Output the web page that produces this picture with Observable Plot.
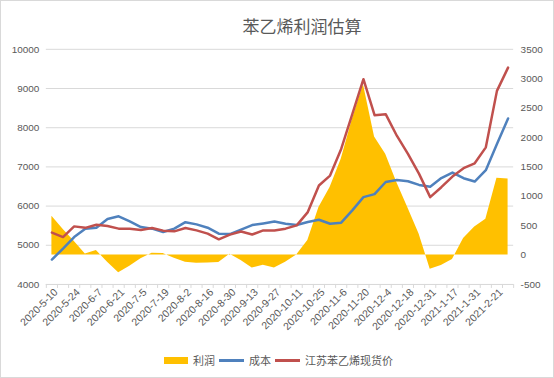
<!DOCTYPE html>
<html>
<head>
<meta charset="utf-8">
<script src="https://cdn.jsdelivr.net/npm/d3@7"></script>
<script src="https://cdn.jsdelivr.net/npm/@observablehq/plot@0.6"></script>
<style>
  html, body { margin: 0; padding: 0; background: #fff; }
  #chart { position: relative; width: 554px; height: 378px; box-sizing: border-box; border: 1px solid #d9d9d9; background: #fff; overflow: hidden; font-family: "Liberation Sans", "Noto Sans CJK SC", sans-serif; color: #595959; }
  #title { position: absolute; top: 13px; left: 0; width: 554px; text-align: center; padding-left: 48px; box-sizing: border-box; font-family: "Noto Sans CJK SC", sans-serif; font-size: 17px; color: #595959; line-height: 24px; }
  #plot { position: absolute; top: 0; left: 0; }
  #legend { position: absolute; top: 350px; left: 163px; display: flex; align-items: center; font-family: "Noto Sans CJK SC", sans-serif; font-size: 11px; color: #595959; line-height: 18px; }
  .item { display: flex; align-items: center; margin-right: 4px; }
  .sw { display: inline-block; margin-right: 5px; }
</style>
</head>
<body>
<div id="chart">
  <div id="plot"></div>
  <div id="title">苯乙烯利润估算</div>
  <div id="legend"></div>
</div>
<script>
const dates = ["2020-5-10","2020-5-17","2020-5-24","2020-5-31","2020-6-7","2020-6-14","2020-6-21","2020-6-28","2020-7-5","2020-7-12","2020-7-19","2020-7-26","2020-8-2","2020-8-9","2020-8-16","2020-8-23","2020-8-30","2020-9-6","2020-9-13","2020-9-20","2020-9-27","2020-10-4","2020-10-11","2020-10-18","2020-10-25","2020-11-1","2020-11-6","2020-11-13","2020-11-20","2020-11-27","2020-12-4","2020-12-11","2020-12-18","2020-12-25","2020-12-31","2021-1-10","2021-1-17","2021-1-24","2021-1-31","2021-2-7","2021-2-21","2021-2-28"];
const cost = [4636,4915,5210,5424,5449,5670,5740,5610,5466,5424,5340,5424,5590,5533,5449,5297,5285,5400,5515,5558,5605,5550,5516,5593,5652,5550,5576,5890,6228,6305,6615,6665,6634,6540,6495,6715,6855,6711,6626,6915,7585,8237];
const price = [5322,5210,5482,5445,5525,5490,5424,5424,5390,5440,5373,5356,5440,5380,5297,5153,5271,5350,5275,5380,5378,5424,5508,5847,6525,6779,7458,8348,9238,8320,8345,7796,7331,6822,6228,6482,6754,6966,7092,7499,8940,9533];
const profit = [660,440,234,20,76,-122,-302,-190,-64,31,25,-54,-122,-139,-133,-128,15,-93,-220,-172,-220,-122,0,246,810,1149,1630,2308,2900,2010,1715,1235,800,360,-240,-178,-76,280,477,608,1308,1295];
const seriesNames = ["利润", "成本", "江苏苯乙烯现货价"];
const seriesColors = ["#FFC000", "#4F81BD", "#C0504D"];
const leftTicks = [4000,5000,6000,7000,8000,9000,10000];
const rightTicks = [-500,0,500,1000,1500,2000,2500,3000,3500];

// map right-axis (profit) values onto the left-axis scale
const toLeft = p => 4000 + (p + 500) * 1.5;
const fromLeft = v => Math.round((v - 4000) / 1.5 - 500);

const rows = dates.map((d, i) => ({i, date: d, cost: cost[i], price: price[i], profit: profit[i]}));
const labelIdx = d3.range(0, dates.length, 2);
const bounds = d3.range(-0.5, dates.length, 1);

const chart = Plot.plot({
  width: 554,
  height: 345,
  marginTop: 48,
  marginBottom: 61,
  marginLeft: 45,
  marginRight: 40,
  style: {fontFamily: "'Liberation Sans', Arial, sans-serif", fontSize: "10px", color: "#595959", background: "transparent", overflow: "visible"},
  x: {type: "linear", domain: [-0.5, dates.length - 0.5]},
  y: {domain: [4000, 10000]},
  marks: [
    Plot.gridY(leftTicks, {stroke: "#d9d9d9", strokeOpacity: 1, strokeWidth: 1}),
    Plot.areaY(rows, {x: "i", y1: () => toLeft(0), y2: d => toLeft(d.profit), fill: seriesColors[0], fillOpacity: 1}),
    Plot.lineY(rows, {x: "i", y: "cost", stroke: seriesColors[1], strokeWidth: 2.5}),
    Plot.lineY(rows, {x: "i", y: "price", stroke: seriesColors[2], strokeWidth: 2.5}),
    Plot.axisY(leftTicks, {anchor: "left", tickSize: 0, tickPadding: 7, fill: "#595959", tickFormat: d => String(d), label: null}),
    Plot.axisY(rightTicks.map(toLeft), {anchor: "right", tickSize: 0, tickPadding: 7, fill: "#595959", tickFormat: v => String(fromLeft(v)), label: null}),
    Plot.ruleY([4000], {stroke: "#d9d9d9", strokeWidth: 1}),
    Plot.axisX(bounds, {tickSize: 4, stroke: "#d9d9d9", strokeOpacity: 1, text: null, label: null}),
    Plot.axisX(labelIdx, {tickSize: 0, tickPadding: 4, tickRotate: -45, textAnchor: "end", fontSize: 10.5, fill: "#595959", tickFormat: i => dates[i], label: null, dx: 4, dy: 2})
  ]
});
document.getElementById("plot").appendChild(chart);

const legend = document.getElementById("legend");
seriesNames.forEach((name, k) => {
  const item = document.createElement("div");
  item.className = "item";
  const sw = document.createElement("span");
  sw.className = "sw";
  if (k === 0) { sw.style.width = "24px"; sw.style.height = "7px"; }
  else { sw.style.width = "25px"; sw.style.height = "3px"; }
  sw.style.background = seriesColors[k];
  const t = document.createElement("span");
  t.textContent = name;
  item.appendChild(sw);
  item.appendChild(t);
  legend.appendChild(item);
});
</script>
</body>
</html>
